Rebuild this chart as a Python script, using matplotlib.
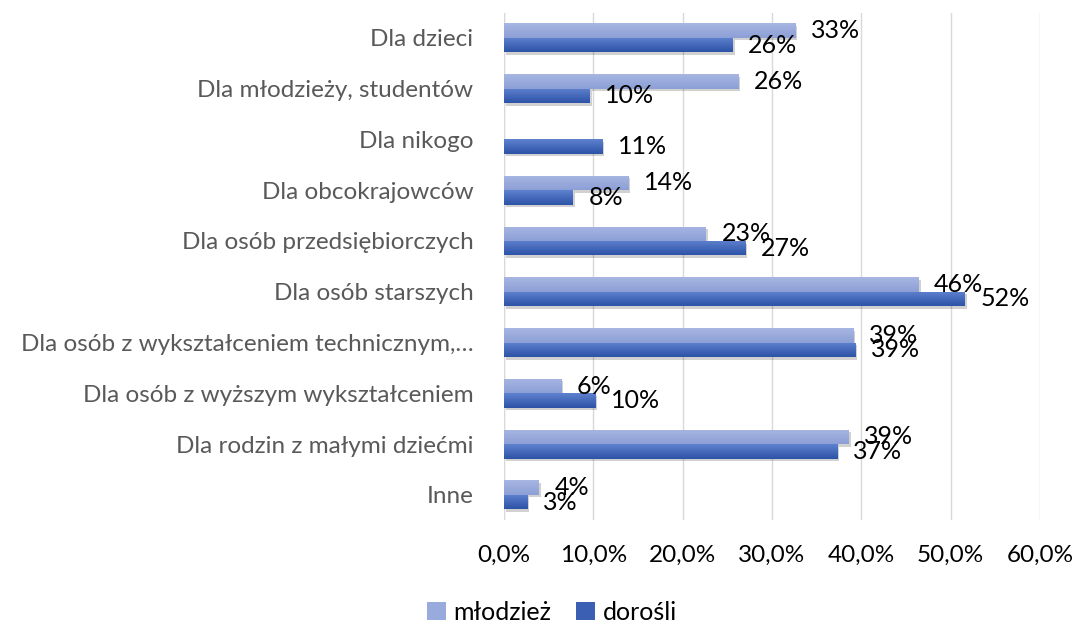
import matplotlib
matplotlib.use("Agg")
import matplotlib.pyplot as plt
import numpy as np
from matplotlib.colors import LinearSegmentedColormap
from matplotlib.patches import Patch

categories = [
    "Dla dzieci",
    "Dla młodzieży, studentów",
    "Dla nikogo",
    "Dla obcokrajowców",
    "Dla osób przedsiębiorczych",
    "Dla osób starszych",
    "Dla osób z wykształceniem technicznym,…",
    "Dla osób z wyższym wykształceniem",
    "Dla rodzin z małymi dziećmi",
    "Inne",
]
mlodziez = [32.6, 26.2, 0.0, 13.9, 22.6, 46.4, 39.1, 6.4, 38.6, 3.9]
dorosli = [25.6, 9.6, 11.0, 7.7, 27.0, 51.6, 39.3, 10.2, 37.3, 2.6]
series_names = ["młodzież", "dorośli"]
xticks = [0, 10, 20, 30, 40, 50, 60]
xtick_labels = ["0,0%", "10,0%", "20,0%", "30,0%", "40,0%", "50,0%", "60,0%"]

plt.rcParams['font.family'] = ['Lato', 'DejaVu Sans']

fig = plt.figure(figsize=(10.78, 6.26), dpi=100)
ax = fig.add_axes([0.4675, 0.169, 0.4972, 0.811])

n = len(categories)
y = np.arange(n)
h = 0.285

cmap_m = LinearSegmentedColormap.from_list("m", ["#a7b6e2", "#8c9fd6"])
cmap_d = LinearSegmentedColormap.from_list("d", ["#5f82cf", "#2d53a7"])
grad = np.linspace(0, 1, 64).reshape(-1, 1)

def draw(vals, offs, cmap):
    bars = ax.barh(y + offs, vals, height=h, color="none", edgecolor="none", zorder=3)
    for b in bars:
        x0, y0 = b.get_x(), b.get_y()
        w, hh = b.get_width(), b.get_height()
        if w <= 0:
            continue
        ax.add_patch(plt.Rectangle((x0 + 0.25, y0 + 0.05), w, hh, color="#000000",
                                   alpha=0.18, lw=0, zorder=2))
        im = ax.imshow(grad, cmap=cmap, aspect="auto",
                       extent=(x0, x0 + w, y0 + hh, y0), zorder=3)
        im.set_clip_path(b)
    return bars

draw(mlodziez, -h / 2, cmap_m)
draw(dorosli, h / 2, cmap_d)

for vals, offs in ((mlodziez, -h / 2), (dorosli, h / 2)):
    for i, v in enumerate(vals):
        if v <= 0:
            continue
        ax.text(v + 1.75, i + offs, f"{round(v):d}%", ha="left", va="center",
                fontsize=18, color="#000000", zorder=5)

ax.set_xlim(0, 60)
ax.set_ylim(n - 0.5, -0.5)
ax.set_yticks(y)
ax.set_yticklabels(categories, fontsize=17.5, color="#595959")
ax.set_xticks(xticks)
ax.set_xticklabels(xtick_labels, fontsize=17.5, color="#000000")
ax.tick_params(axis="both", length=0)
ax.tick_params(axis="y", pad=22)
ax.tick_params(axis="x", pad=18)
ax.grid(axis="x", color="#d9d9d9", lw=1, zorder=0)
ax.set_axisbelow(True)
for s in ax.spines.values():
    s.set_visible(False)
ax.axvline(0, color="#d9d9d9", lw=1, zorder=1)

handles = [Patch(facecolor="#99abdc", edgecolor="none"), Patch(facecolor="#3a5fb3", edgecolor="none")]
fig.legend(handles, series_names, loc="center", bbox_to_anchor=(0.512, 0.022),
           ncol=2, frameon=False, fontsize=18, handlelength=0.75, handleheight=0.75,
           handletextpad=0.3, columnspacing=1.0)

fig.savefig("out.png", dpi=100)
